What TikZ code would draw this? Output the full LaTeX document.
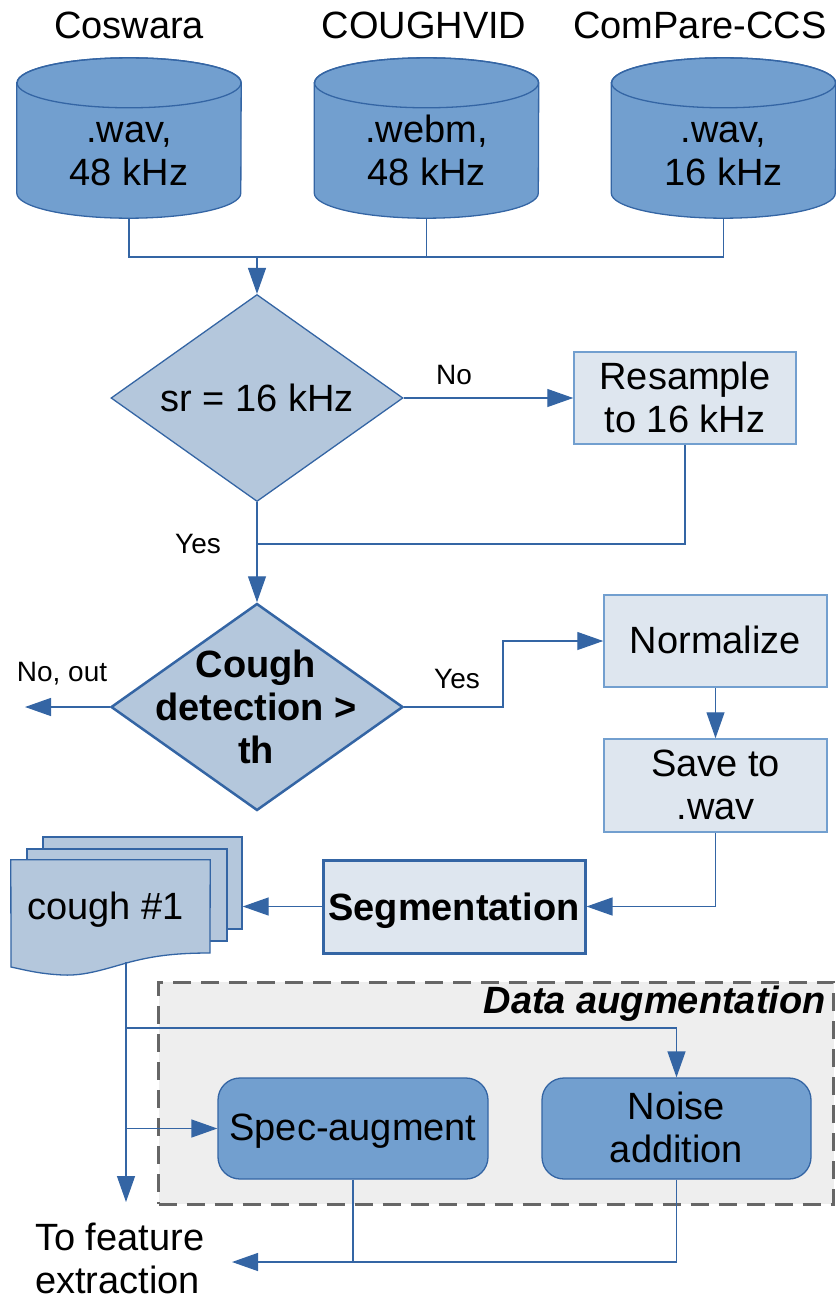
\documentclass[tikz,border=0pt]{standalone}
\usepackage{fontspec}
\setmainfont{Liberation Sans}
\usetikzlibrary{shapes.geometric,arrows.meta}
\definecolor{dblue}{HTML}{3465A4}
\definecolor{mblue}{HTML}{729FCF}
\definecolor{lblue}{HTML}{B4C7DC}
\definecolor{pblue}{HTML}{DEE6EF}
\definecolor{dgray}{HTML}{666666}
\definecolor{lgray}{HTML}{EEEEEE}
\newcommand{\drawcyl}[1]{%
  \filldraw[draw=dblue,fill=mblue,line width=1.3pt]
    ([yshift=-25pt]#1.north west) -- ([yshift=25pt]#1.south west)
    arc[start angle=180,end angle=360,x radius=112pt,y radius=25pt]
    -- ([yshift=-25pt]#1.north east)
    arc[start angle=0,end angle=180,x radius=112pt,y radius=25pt] -- cycle;
  \draw[draw=dblue,line width=1.3pt] ([yshift=-25pt]#1.north) ellipse[x radius=112pt,y radius=25pt];}
\begin{document}
\begin{tikzpicture}[x=1pt,y=-1pt,
  conn/.style={draw=dblue,line width=1.3pt},
  arr/.style={conn,-{Triangle[length=26pt,width=18pt]}},
  big/.style={font=\fontsize{38}{42.5}\selectfont},
  bigb/.style={font=\fontsize{38}{43}\selectfont\bfseries},
  small/.style={font=\fontsize{28}{32}\selectfont},
  cylbox/.style={rectangle,minimum width=224pt,minimum height=160pt,inner sep=0pt},
  dia/.style={diamond,draw=dblue,fill=lblue,line width=1.3pt,minimum width=292pt,minimum height=207pt,inner sep=0pt},
  pbox/.style={rectangle,draw=mblue,fill=pblue,line width=1.5pt,inner sep=0pt,minimum width=223pt,minimum height=92pt},
  rbox/.style={rectangle,rounded corners=22pt,draw=dblue,fill=mblue,line width=1.3pt,minimum width=270pt,minimum height=101pt,inner sep=0pt},
  pagebox/.style={rectangle,draw=dblue,fill=lblue,line width=1.3pt,minimum width=199pt,minimum height=92pt,inner sep=0pt},
  txt/.style={align=center,anchor=base,inner sep=0pt},
]
\useasboundingbox (0,0) rectangle (835,1303);

% data augmentation background
\node[rectangle,draw=dgray,fill=lgray,line width=3pt,dash pattern=on 18pt off 10pt,
      minimum width=675pt,minimum height=222pt,inner sep=0pt] (aug) at (496,1093) {};
\node[anchor=base east,inner sep=0pt,font=\fontsize{38}{43}\selectfont\bfseries\itshape] (augl) at (826,1013) {Data augmentation};

% sources (multi-line nodes are anchored at the baseline of their last line)
\node[txt,big] (t1) at (129,39) {Coswara};
\node[txt,big] (t2) at (424,39) {COUGHVID};
\node[txt,big] (t3) at (700,39) {ComPare-CCS};
\node[cylbox] (cy1) at (129,138) {};
\node[cylbox] (cy2) at (426.5,138) {};
\node[cylbox] (cy3) at (723.5,138) {};
\drawcyl{cy1}
\drawcyl{cy2}
\drawcyl{cy3}
\node[txt,big] (cy1t) at (129,185) {.wav,\\48 kHz};
\node[txt,big] (cy2t) at (426.5,185) {.webm,\\48 kHz};
\node[txt,big] (cy3t) at (723.5,185) {.wav,\\16 kHz};

\coordinate (j1) at (257,257);
\draw[conn] (cy1.south) -- (cy1.south |- j1) -- (cy3.south |- j1) -- (cy3.south);
\draw[conn] (cy2.south) -- (cy2.south |- j1);

% sample rate decision
\node[dia] (d1) at (257,398) {};
\node[txt,big] (d1t) at (257,411) {sr = 16 kHz};
\draw[arr] (j1) -- (d1.north);
\node[txt,small] (lno) at (454,384) {No};
\node[pbox,minimum width=222pt] (rs) at (685,398) {};
\node[txt,big] (rst) at (685,432) {Resample\\to 16 kHz};
\draw[arr] (d1.east) -- (rs.west);
\coordinate (j2) at (257,544);
\draw[conn] (rs.south) |- (j2);
\node[txt,small] (lyes1) at (198,553) {Yes};

% cough detection
\node[dia,line width=2.5pt] (d2) at (257,707) {};
\node[txt,bigb] (d2t) at (256,763) {Cough\\detection >\\th};
\draw[arr] (d1.south) -- (d2.north);
\coordinate (out1) at (25,707);
\draw[arr] (d2.west) -- (out1);
\node[txt,small] (lno2) at (62,681) {No, out};
\node[txt,small] (lyes2) at (457,688) {Yes};

\node[pbox] (norm) at (715.5,641) {};
\node[txt,big] (normt) at (715.5,653) {Normalize};
\coordinate (k1) at (503,707);
\draw[arr] (d2.east) -- (k1) |- (norm.west);
\node[pbox,minimum height=93pt] (save) at (715.5,785.5) {};
\node[txt,big] (savet) at (715.5,819) {Save to\\.wav};
\draw[arr] (norm.south) -- (save.north);

\node[rectangle,draw=dblue,fill=pblue,line width=3pt,minimum width=262pt,minimum height=93pt,inner sep=0pt] (seg) at (454,906.5) {};
\node[txt,bigb] (segt) at (454,920) {Segmentation};
\draw[arr] (save.south) |- (seg.east);

% multi document
\node[pagebox] (docb) at (142.5,883) {};
\node[pagebox,minimum width=200pt] (docm) at (127,895) {};
\node[rectangle,minimum width=199pt,minimum height=93pt,inner sep=0pt] (docf) at (110.5,906.5) {};
\filldraw[draw=dblue,fill=lblue,line width=1.3pt]
  (docf.north west) -- (docf.north east) -- (210,953)
  .. controls (170,953) and (150,957) .. (130,962)
  .. controls (105,969) and (85,976) .. (63,975)
  .. controls (40,974) and (25,970) .. (11,967) -- cycle;
\node[anchor=base west,inner sep=0pt,big] (doct) at (27,919) {cough \#1};
\draw[arr] (seg.west) -- (seg.west -| docb.east);

% augmentation
\node[rbox] (spec) at (353,1128.5) {};
\node[rbox,minimum width=269pt] (noise) at (676.5,1128.5) {};
\node[txt,big] (spect) at (353,1140) {Spec-augment};
\node[txt,big] (noiset) at (676.5,1162) {Noise\\addition};

\coordinate (ds) at (126,962);
\coordinate (b1) at (126,1028);
\coordinate (b2) at (126,1128.5);
\coordinate (tofe) at (126,1202);
\draw[arr] (ds) -- (tofe);
\draw[arr] (b1) -| (noise.north);
\draw[arr] (b2) -- (spec.west);

\coordinate (fe) at (232,1262);
\draw[conn] (spec.south) -- (spec.south |- fe);
\draw[arr] (noise.south) |- (fe);
\node[align=left,anchor=base west,inner sep=0pt,big] (fet) at (35,1293) {To feature\\extraction};
\end{tikzpicture}
\end{document}
